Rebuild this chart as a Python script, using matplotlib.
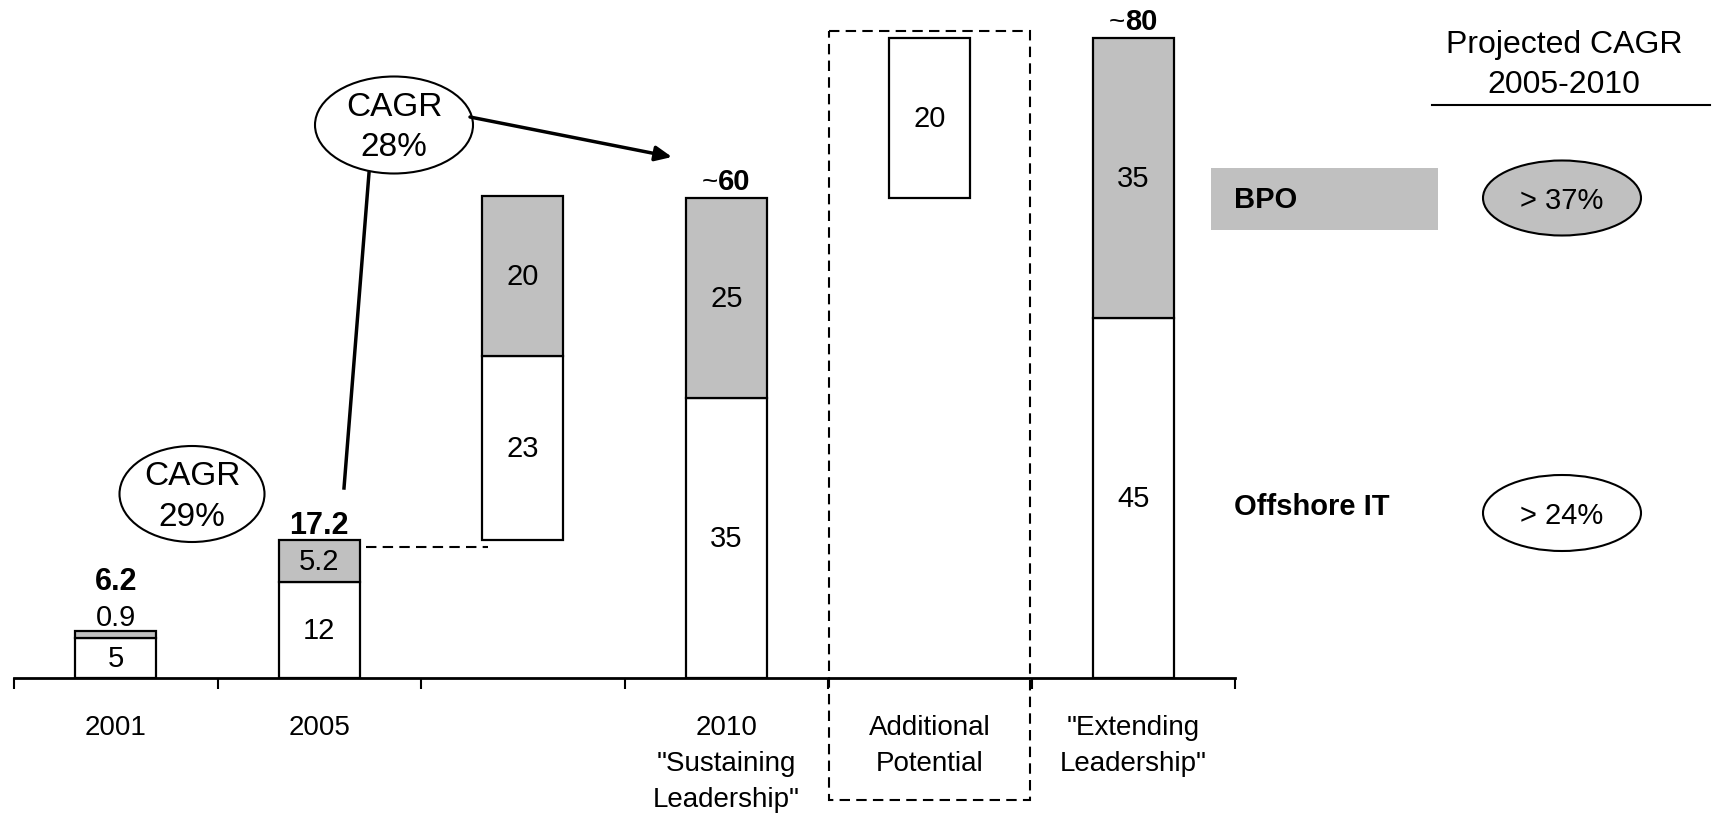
import numpy as np
import matplotlib.pyplot as plt
from matplotlib.patches import Ellipse, Rectangle

plt.rcParams['font.family'] = ['Liberation Sans', 'DejaVu Sans']

# Data (USD bn)
categories = ['2001', '2005', '', '2010\n"Sustaining\nLeadership"',
              'Additional\nPotential', '"Extending\nLeadership"']
base = [0, 0, 17.2, 0, 60, 0]
offshore_it = [5, 12, 23, 35, 20, 45]
bpo = [0.9, 5.2, 20, 25, 0, 35]
lower_labels = ['5', '12', '23', '35', '20', '45']
upper_labels = ['0.9', '5.2', '20', '25', '', '35']
totals = [6.2, 17.2, None, 60, None, 80]
total_labels = ['6.2', '17.2', '', '60', '', '80']
approx = [False, False, False, True, False, True]

gray = '#c0c0c0'

fig = plt.figure(figsize=(17.14, 8.2), dpi=100)
W, H = 1714, 820
ax = fig.add_axes([14 / W, (H - 679) / H, (1235 - 14) / W, 679 / H])
ax.set_xlim(-0.5, 5.5)
ax.set_ylim(0, 679 / 8)

x = np.arange(len(categories))
bw = 0.4
lower_bottom = np.array(base)
upper_bottom = lower_bottom + np.array(offshore_it)
ax.bar(x, offshore_it, bw, bottom=lower_bottom, color='white',
       edgecolor='black', linewidth=1.6, zorder=3)
ax.bar(x, bpo, bw, bottom=upper_bottom, color=gray,
       edgecolor='black', linewidth=1.6, zorder=3)
# hide empty bpo segment for "Additional Potential"
for i, v in enumerate(bpo):
    if v == 0:
        ax.patches[len(categories) + i].set_visible(False)

# segment labels
for i in x:
    lo = offshore_it[i]
    up = bpo[i]
    ax.text(i, base[i] + lo / 2, lower_labels[i], ha='center', va='center',
            fontsize=21, zorder=4)
    if upper_labels[i]:
        if up < 2:
            ax.text(i, upper_bottom[i] + up + 1.7, upper_labels[i],
                    ha='center', va='center', fontsize=21, zorder=4)
        else:
            ax.text(i, upper_bottom[i] + up / 2, upper_labels[i],
                    ha='center', va='center', fontsize=21, zorder=4)

# totals
for i in x:
    if totals[i] is None:
        continue
    if approx[i]:
        ax.text(i - 0.04, totals[i] + 0.4, total_labels[i], ha='left',
                va='bottom', fontsize=21, fontweight='bold', zorder=4)
        ax.text(i - 0.04, totals[i] + 0.4, '~', ha='right', va='bottom',
                fontsize=20, zorder=4)
    elif bpo[i] < 2:
        ax.text(i, totals[i] + 5.9, total_labels[i], ha='center',
                va='center', fontsize=22, fontweight='bold', zorder=4)
    else:
        ax.text(i, totals[i] + 0.1, total_labels[i], ha='center',
                va='bottom', fontsize=22, fontweight='bold', zorder=4)

# axis styling
for s in ['left', 'right', 'top']:
    ax.spines[s].set_visible(False)
ax.spines['bottom'].set_linewidth(2)
ax.set_yticks([])
ax.set_xticks(np.arange(-0.5, 6, 1))
ax.set_xticklabels([])
ax.tick_params(axis='x', which='major', direction='out', length=8, width=1.5)
ax.set_xticks(x, minor=True)
ax.set_xticklabels(categories, minor=True, fontsize=20)
ax.tick_params(axis='x', which='minor', length=0, pad=26)
for lbl in ax.get_xticklabels(minor=True):
    lbl.set_linespacing(1.5)
ax.patch.set_visible(False)

# overlay in pixel coordinates for annotations
ov = fig.add_axes([0, 0, 1, 1], zorder=5)
ov.set_xlim(0, W)
ov.set_ylim(H, 0)
ov.axis('off')
ov.patch.set_visible(False)

# dashed connector 2005 -> bridge bar
ov.plot([366, 488], [548, 548], color='black', lw=1.5, ls=(0, (5, 3)))

# dashed box around additional potential
ov.add_patch(Rectangle((829, 32), 1030 - 829, 801 - 32, fill=False,
                       edgecolor='black', lw=1.5, ls=(0, (5, 3))))

# CAGR bubbles
ov.add_patch(Ellipse((192, 495), 145, 96, facecolor='white',
                     edgecolor='black', lw=1.5))
ov.text(192, 477, 'CAGR', ha='center', va='center', fontsize=24)
ov.text(192, 518, '29%', ha='center', va='center', fontsize=24)

ov.add_patch(Ellipse((394, 126), 158, 97, facecolor='white',
                     edgecolor='black', lw=1.5))
ov.text(394, 108, 'CAGR', ha='center', va='center', fontsize=24)
ov.text(394, 148, '28%', ha='center', va='center', fontsize=24)
ov.plot([369, 344], [174, 489], color='black', lw=2.5)
ov.annotate('', xy=(672, 158), xytext=(470, 118),
            arrowprops=dict(arrowstyle='-|>,head_length=1.0,head_width=0.45',
                            color='black', lw=2.5, shrinkA=0, shrinkB=0))

# right side legend / projected CAGR
ov.text(1564, 45, 'Projected CAGR', ha='center', va='center', fontsize=23)
ov.text(1564, 85, '2005-2010', ha='center', va='center', fontsize=23)
ov.plot([1432, 1710], [106, 106], color='black', lw=1.5)

ov.add_patch(Rectangle((1211, 169), 1438 - 1211, 231 - 169, facecolor=gray,
                       edgecolor='none'))
ov.text(1234, 200, 'BPO', ha='left', va='center', fontsize=21,
        fontweight='bold')
ov.add_patch(Ellipse((1562, 199), 158, 75, facecolor=gray,
                     edgecolor='black', lw=1.5))
ov.text(1562, 201, '> 37%', ha='center', va='center', fontsize=21)

ov.text(1234, 507, 'Offshore IT', ha='left', va='center', fontsize=21,
        fontweight='bold')
ov.add_patch(Ellipse((1562, 514), 158, 76, facecolor='white',
                     edgecolor='black', lw=1.5))
ov.text(1562, 516, '> 24%', ha='center', va='center', fontsize=21)

fig.savefig('out.png', dpi=100)
